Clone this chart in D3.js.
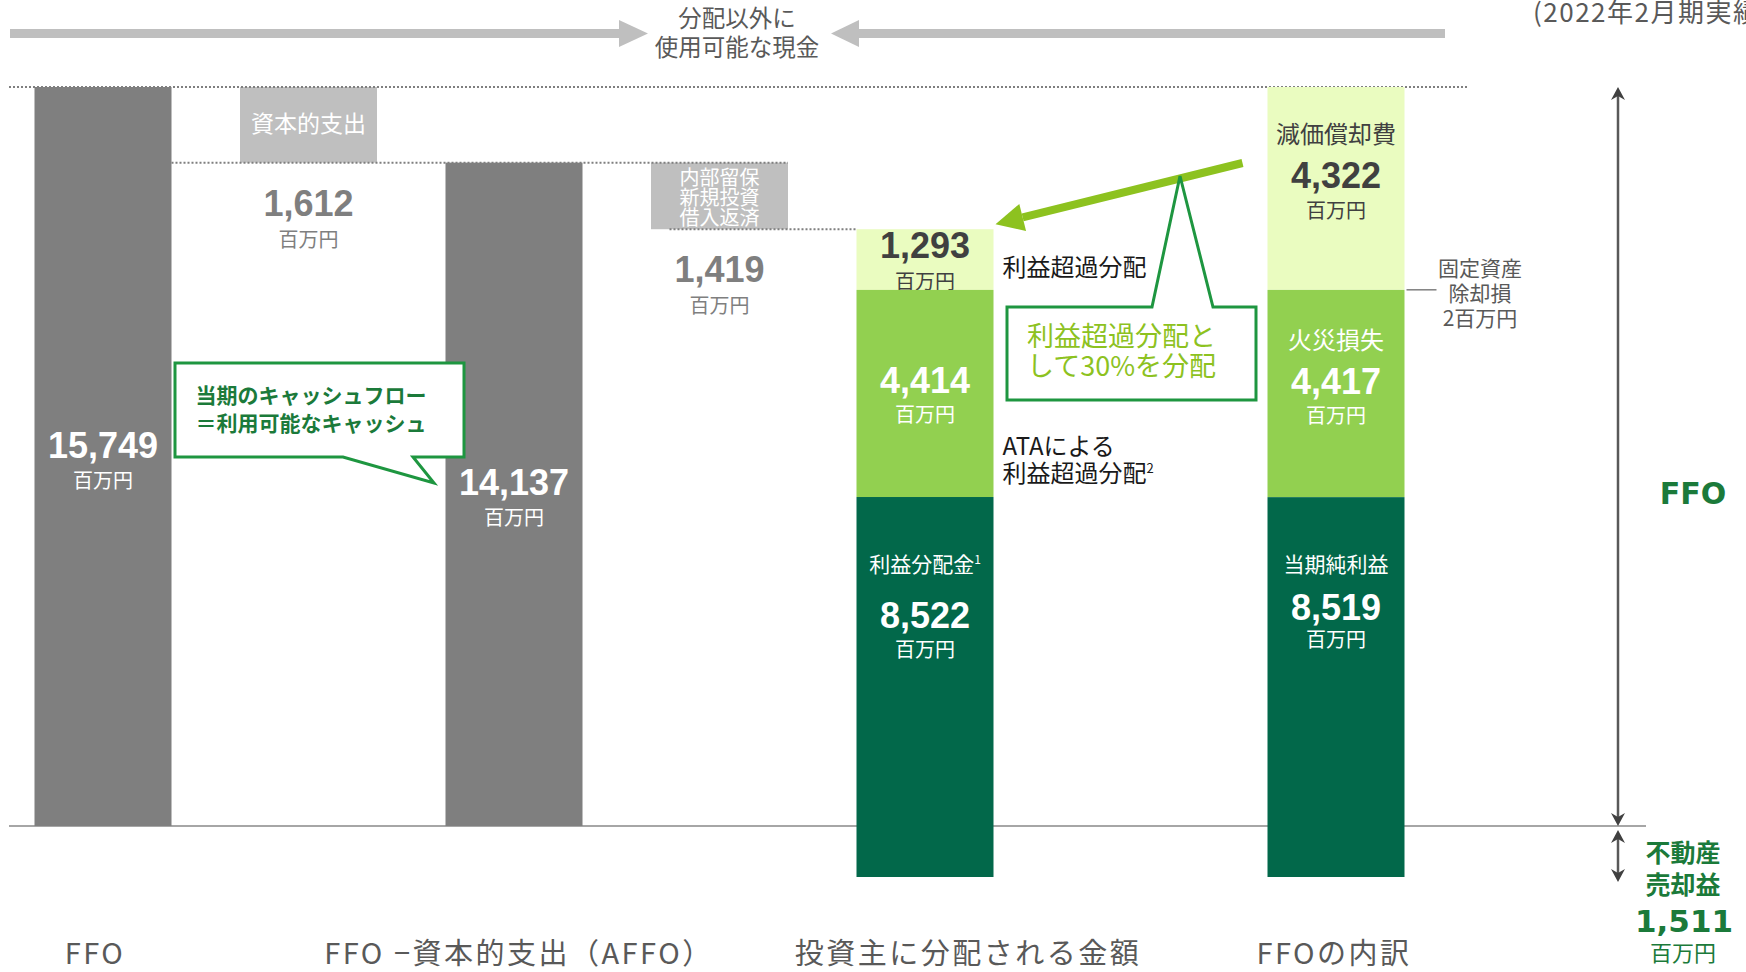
<!DOCTYPE html>
<html lang="ja">
<head>
<meta charset="utf-8">
<script src="https://cdn.jsdelivr.net/npm/d3@7"></script>
<style>
  body { margin: 0; background: #fff; }
  svg { display: block; }
</style>
</head>
<body>
<script>
const width = 1746,
  height = 972;

// steps across the chart: bars and the grey boxes between them
const steps = ["ffo", "capex", "affo", "retained", "dist", "gap", "breakdown"];
const categorySteps = ["ffo", "affo", "dist", "breakdown"];
const categoryLabels = ["FFO", "FFO −資本的支出（AFFO）", "投資主に分配される金額", "FFOの内訳"];

// values in 百万円
const ffoTotal = 15749;
const capex = 1612;
const affo = 14137;
const retained = 1419;
const saleGain = 1511;

// distribution bar, top to bottom
const distNames = ["利益超過分配", "ATAによる利益超過分配", "利益分配金"];
const distValues = [1293, 4414, 8522];

// FFO breakdown bar, top to bottom
const ffoNames = ["減価償却費", "固定資産除却損", "火災損失", "当期純利益"];
const ffoValues = [4322, 2, 4417, 8519];

const fmt = d3.format(",");
const numFont = '"Liberation Sans", Arial, sans-serif';
const jpFont = '"Noto Sans CJK JP", "Noto Sans", sans-serif';

const cBar = "#7f7f7f",
  cBox = "#bfbfbf",
  cLight = "#eafcc0",
  cMid = "#92d050",
  cDark = "#02684a",
  cLime = "#8dc21f",
  cFrame = "#1e9640",
  cGreenText = "#1b7a3a",
  cText = "#595959";

const x = d3.scalePoint().domain(steps).range([103, 1336]);
const barW = 137;
// below zero the drawing is squeezed a little, as in the original slide
const y = d3.scaleLinear().domain([-saleGain, 0, ffoTotal]).range([877, 826, 87]);

function stack(names, values, top) {
  let cur = top;
  return names.map((name, i) => {
    const s = { name, value: values[i], top: cur, bottom: cur - values[i] };
    cur = s.bottom;
    return s;
  });
}
const distSegs = stack(distNames, distValues, affo - retained);
const ffoSegs = stack(ffoNames, ffoValues, ffoTotal);

const svg = d3
  .select("body")
  .append("svg")
  .attr("width", width)
  .attr("height", height)
  .style("font-family", jpFont);

function txt(x0, y0, s, size, fill, opts = {}) {
  return svg
    .append("text")
    .attr("x", x0)
    .attr("y", y0)
    .attr("text-anchor", opts.anchor || "middle")
    .attr("font-size", size)
    .attr("fill", fill)
    .attr("font-weight", opts.bold ? "bold" : null)
    .attr("font-family", opts.family || null)
    .text(s);
}
const num = (x0, y0, v, fill) => txt(x0, y0, fmt(v), 36, fill, { bold: true, family: numFont });
const unit = (x0, y0, fill) => txt(x0, y0, "百万円", 20, fill);

// top grey arrows
const ay = 33.5;
svg.append("rect").attr("x", 10).attr("y", ay - 4.5).attr("width", 610).attr("height", 9).attr("fill", cBox);
svg.append("path").attr("d", `M619,${ay - 13.5}L648,${ay}L619,${ay + 13.5}Z`).attr("fill", cBox);
svg.append("rect").attr("x", 858).attr("y", ay - 4.5).attr("width", 587).attr("height", 9).attr("fill", cBox);
svg.append("path").attr("d", `M859,${ay - 13.5}L831,${ay}L859,${ay + 13.5}Z`).attr("fill", cBox);
txt(737, 27, "分配以外に", 23.5, cText);
txt(737, 56, "使用可能な現金", 23.5, cText);
txt(1533, 22, "(2022年2月期実績)", 26, cText, { anchor: "start" }).style("letter-spacing", "1.5px");

// baseline
svg.append("line")
  .attr("x1", 9).attr("x2", 1646)
  .attr("y1", y(0)).attr("y2", y(0))
  .attr("stroke", "#a6a6a6").attr("stroke-width", 2);

// grey boxes: capex and retained cash
svg.append("rect")
  .attr("x", x("capex") - barW / 2).attr("y", y(ffoTotal))
  .attr("width", barW).attr("height", y(affo) - y(ffoTotal))
  .attr("fill", cBox);
svg.append("rect")
  .attr("x", x("retained") - barW / 2).attr("y", y(affo))
  .attr("width", barW).attr("height", y(affo - retained) - y(affo))
  .attr("fill", cBox);
txt(x("capex"), (y(ffoTotal) + y(affo)) / 2 + 7, "資本的支出", 23, "#fff");
["内部留保", "新規投資", "借入返済"].forEach((s, i) => txt(x("retained"), y(affo) + 22 + i * 20, s, 20, "#fff"));

// dotted guide lines
const dotted = (x1, x2, yy) =>
  svg.append("line")
    .attr("x1", x1).attr("x2", x2).attr("y1", yy).attr("y2", yy)
    .attr("stroke", "#7f7f7f").attr("stroke-width", 2).attr("stroke-dasharray", "2,2");
dotted(9, 1468, y(ffoTotal));
dotted(x("ffo") + barW / 2, x("retained") + barW / 2, y(affo));
dotted(x("retained") - 50, x("dist") - barW / 2, y(affo - retained));

// grey bars
[["ffo", ffoTotal], ["affo", affo]].forEach(([k, v]) => {
  svg.append("rect")
    .attr("x", x(k) - barW / 2).attr("y", y(v))
    .attr("width", barW).attr("height", y(0) - y(v))
    .attr("fill", cBar);
  const mid = (y(v) + y(0)) / 2;
  num(x(k), mid + 1, v, "#fff");
  unit(x(k), mid + 31, "#fff");
});
num(x("capex"), y(affo) + 53, capex, cBar);
unit(x("capex"), y(affo) + 84, cBar);
num(x("retained"), y(affo - retained) + 53, retained, cBar);
unit(x("retained"), y(affo - retained) + 84, cBar);

// stacked bars
function segRect(k, s, fill) {
  svg.append("rect")
    .attr("x", x(k) - barW / 2).attr("y", y(s.top))
    .attr("width", barW).attr("height", y(s.bottom) - y(s.top))
    .attr("fill", fill);
}
const distFill = [cLight, cMid, cDark];
const cx3 = x("dist");
distSegs.forEach((s, i) => {
  segRect("dist", s, distFill[i]);
  const t = y(s.top), mid = (y(s.top) + y(s.bottom)) / 2;
  if (i === 0) {
    num(cx3, t + 29, s.value, "#404040");
    unit(cx3, t + 60, "#404040");
  } else if (i === 1) {
    num(cx3, mid, s.value, "#fff");
    unit(cx3, mid + 29, "#fff");
  } else {
    const n = txt(cx3, t + 75, "利益分配金", 21, "#fff");
    n.append("tspan").attr("font-size", 12).attr("dy", -8).text("1");
    num(cx3, t + 131, s.value, "#fff");
    unit(cx3, t + 160, "#fff");
  }
});

const ffoFill = [cLight, cLight, cMid, cDark];
const cx4 = x("breakdown");
ffoSegs.forEach((s, i) => {
  segRect("breakdown", s, ffoFill[i]);
  const t = y(s.top), mid = (y(s.top) + y(s.bottom)) / 2;
  if (i === 0) {
    txt(cx4, t + 56, s.name, 24, "#404040");
    num(cx4, t + 101, s.value, "#404040");
    unit(cx4, t + 131, "#404040");
  } else if (i === 2) {
    txt(cx4, mid - 45, s.name, 24, "#fff");
    num(cx4, mid, s.value, "#fff");
    unit(cx4, mid + 29, "#fff");
  } else if (i === 3) {
    txt(cx4, t + 75, s.name, 21, "#fff");
    num(cx4, t + 123, s.value, "#fff");
    unit(cx4, t + 150, "#fff");
  }
});

// fixed asset removal loss pointer
const lossY = y(ffoSegs[1].top);
svg.append("line")
  .attr("x1", cx4 + barW / 2 + 2).attr("x2", cx4 + barW / 2 + 32)
  .attr("y1", lossY).attr("y2", lossY)
  .attr("stroke", "#7f7f7f").attr("stroke-width", 1.5);
txt(1480, lossY - 14, "固定資産", 21, cText);
txt(1480, lossY + 11, "除却損", 21, cText);
txt(1480, lossY + 36, ffoValues[1] + "百万円", 21, cText);

// labels right of the distribution bar
const lx = cx3 + barW / 2 + 9;
txt(lx, y(distSegs[0].top) + 47, distNames[0], 24, "#1a1a1a", { anchor: "start" });
const m1 = (y(distSegs[1].top) + y(distSegs[1].bottom)) / 2;
txt(lx, m1 + 62, "ATAによる", 24, "#1a1a1a", { anchor: "start" });
txt(lx, m1 + 89, "利益超過分配", 24, "#1a1a1a", { anchor: "start" })
  .append("tspan").attr("font-size", 13).attr("dy", -9).text("2");

// lime arrow from the breakdown bar to the excess distribution
const tip = [cx3 + barW / 2 + 2, y(distSegs[0].top) - 5];
const tail = [cx4 - barW / 2 - 25, y(ffoTotal) + 76];
const dx = tip[0] - tail[0], dy = tip[1] - tail[1], len = Math.hypot(dx, dy);
const ux = dx / len, uy = dy / len;
const base = [tip[0] - 28 * ux, tip[1] - 28 * uy];
svg.append("line")
  .attr("x1", tail[0]).attr("y1", tail[1]).attr("x2", base[0]).attr("y2", base[1])
  .attr("stroke", cLime).attr("stroke-width", 8);
svg.append("path")
  .attr("d", `M${tip}L${base[0] - 14 * uy},${base[1] + 14 * ux}L${base[0] + 14 * uy},${base[1] - 14 * ux}Z`)
  .attr("fill", cLime);

// callout: 30% as excess distribution
svg.append("path")
  .attr("d", "M1007,307H1152L1180,176L1213,307H1256V400H1007Z")
  .attr("fill", "#fff").attr("stroke", cFrame).attr("stroke-width", 3);
txt(1027, 346, "利益超過分配と", 27, cLime, { anchor: "start" });
txt(1027, 376, "して30%を分配", 27, cLime, { anchor: "start" });

// callout: cash flow of the period
svg.append("path")
  .attr("d", "M175,363H464V457H413L434,483L343,457H175Z")
  .attr("fill", "#fff").attr("stroke", cFrame).attr("stroke-width", 3);
txt(311, 403, "当期のキャッシュフロー", 21, cGreenText, { bold: true });
txt(311, 431, "＝利用可能なキャッシュ", 21, cGreenText, { bold: true });

// FFO span arrow and real estate sale gain arrow
const vx = 1618;
function head(xx, yy, dir) {
  svg.append("path")
    .attr("d", `M${xx},${yy}L${xx - 7},${yy + 13 * dir}L${xx},${yy + 9 * dir}L${xx + 7},${yy + 13 * dir}Z`)
    .attr("fill", "#404040");
}
function vArrow(y1, y2) {
  svg.append("line")
    .attr("x1", vx).attr("x2", vx).attr("y1", y1 + 4).attr("y2", y2 - 4)
    .attr("stroke", "#595959").attr("stroke-width", 2.5);
  head(vx, y1, 1);
  head(vx, y2, -1);
}
vArrow(y(ffoTotal), y(0));
vArrow(y(0) + 4, y(-saleGain) + 5);
txt(1693, 504, "FFO", 30, cGreenText, { bold: true, family: '"DejaVu Sans", Verdana, sans-serif' });
txt(1683, 862, "不動産", 25, cGreenText, { bold: true });
txt(1683, 894, "売却益", 25, cGreenText, { bold: true });
txt(1684, 932, fmt(saleGain), 31, cGreenText, { bold: true, family: '"DejaVu Sans", Verdana, sans-serif' });
txt(1683, 961, "百万円", 22, cGreenText);

// category labels
const labelDx = [-8, 5, 43, -2];
categoryLabels.forEach((s, i) => {
  txt(x(categorySteps[i]) + labelDx[i], 964, s, 29, cText).style("letter-spacing", "2.5px");
});
</script>
</body>
</html>
